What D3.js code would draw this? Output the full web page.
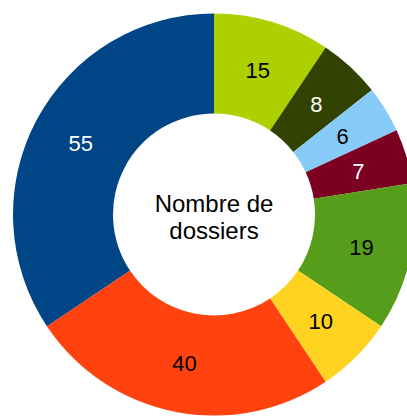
<!DOCTYPE html>
<html>
<head>
<meta charset="utf-8">
<script src="https://cdn.jsdelivr.net/npm/d3@7"></script>
<style>
  body { margin: 0; background: #fff; overflow: hidden; }
  svg { display: block; }
</style>
</head>
<body>
<svg></svg>
<script>
// values clockwise from 12 o'clock
var categories = ['A', 'B', 'C', 'D', 'E', 'F', 'G', 'H'];
var values = [15, 8, 6, 7, 19, 10, 40, 55];
var colors = ['#aecf00', '#324200', '#87cbf9', '#7b0022', '#579d1c', '#ffd320', '#ff420e', '#004586'];
var labelColors = ['#000', '#fff', '#000', '#fff', '#000', '#000', '#000', '#fff'];
var centerText = ['Nombre de', 'dossiers'];

var svgWidth = 407;
var svgHeight = 416;
var cx = 214, cy = 214.5;
var outerR = 201, innerR = 101;

var svg = d3.select('svg')
    .attr('width', svgWidth)
    .attr('height', svgHeight);

var g = svg.append('g').attr('transform', 'translate(' + cx + ',' + cy + ')');

var pie = d3.pie().sort(null).value(function(d) { return d; });
var arc = d3.arc().innerRadius(innerR).outerRadius(outerR);
var arcs = pie(values);

g.selectAll('path').data(arcs)
    .enter()
    .append('path')
    .attr('d', arc)
    .attr('fill', function(d, i) { return colors[i]; });

// value labels at slice centroids
g.selectAll('text.val').data(arcs)
    .enter()
    .append('text')
    .attr('class', 'val')
    .attr('transform', function(d) { return 'translate(' + arc.centroid(d) + ')'; })
    .attr('text-anchor', 'middle')
    .attr('dy', '0.36em')
    .attr('font-family', 'Liberation Sans, Arial, sans-serif')
    .attr('font-size', '22px')
    .attr('fill', function(d, i) { return labelColors[i]; })
    .text(function(d) { return d.data; });

g.selectAll('text.center').data(centerText)
    .enter()
    .append('text')
    .attr('class', 'center')
    .attr('x', 0)
    .attr('y', function(d, i) { return -11.5 + i * 27; })
    .attr('dy', '0.36em')
    .attr('text-anchor', 'middle')
    .attr('font-family', 'Liberation Sans, Arial, sans-serif')
    .attr('font-size', '24px')
    .attr('fill', '#000')
    .text(function(d) { return d; });
</script>
</body>
</html>
